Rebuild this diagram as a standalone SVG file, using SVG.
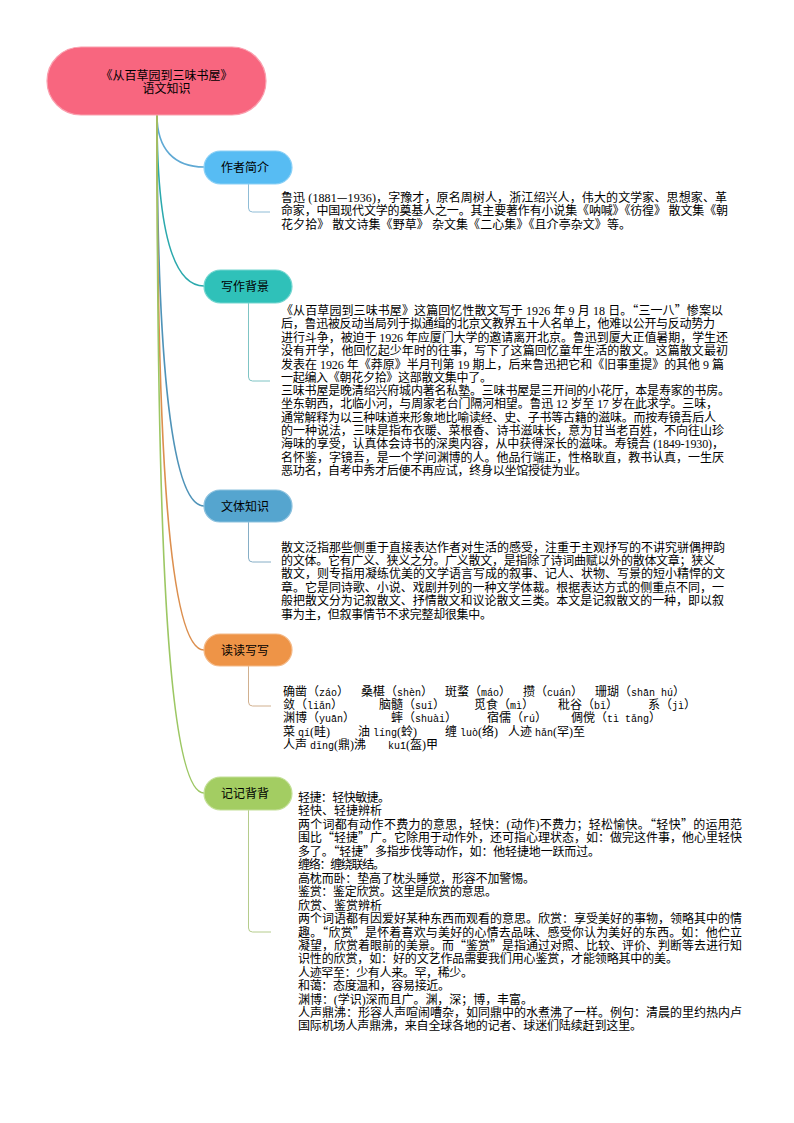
<svg xmlns="http://www.w3.org/2000/svg" width="794" height="1123" viewBox="0 0 794 1123">
<style>
text{font-family:"Liberation Serif","Noto Sans CJK SC",serif;font-size:12px;fill:#000}
.n,.q{font-family:"Noto Sans CJK SC",sans-serif}
.p{font-family:"Liberation Mono",monospace;font-size:10px}
.c{fill:none;stroke-width:1.6}
.s{fill:none;stroke-width:1}
.box{stroke-width:1.2}
</style>
<rect width="794" height="1123" fill="#fff"/>
<g id="connectors">
<path class="c" stroke="#5fa9d4" d="M157 115C157 150 175 167 204 167"/>
<path class="c" stroke="#2ba9ad" d="M157 115C157 220 170 286 204 286"/>
<path class="c" stroke="#4f93b8" d="M157 115C157 330 168 506 204 506"/>
<path class="c" stroke="#dc8f4e" d="M157 115C157 400 165 650 204 650"/>
<path class="c" stroke="#9cc763" d="M157 115C157 500 165 793 204 793"/>
<path class="s" stroke="#8fbcd6" d="M248.500 184V208Q248.500 212 252.500 212H270"/>
<path class="s" stroke="#7fc4c4" d="M248.500 303V377Q248.500 381 252.500 381H270"/>
<path class="s" stroke="#86aec6" d="M248.500 522V558Q248.500 562 252.500 562H271"/>
<path class="s" stroke="#d1b08f" d="M248.500 666V702Q248.500 706 252.500 706H271"/>
<path class="s" stroke="#b5cc8c" d="M248.500 810V928Q248.500 932 252.500 932H271"/>
</g>
<g id="root">
<rect class="box" x="47" y="47" width="219" height="68" rx="34" fill="#f8667f" stroke="#fa9fae"/>
<text text-anchor="middle" class="n"><tspan x="166.500" y="79.500">《从百草园到三味书屋》</tspan><tspan x="166.500" y="92.500">语文知识</tspan></text>
</g>
<g id="node-author">
<rect class="box" x="204" y="151" width="88" height="33" rx="16.500" fill="#57bcf3" stroke="#8bd0f6"/>
<text x="221" y="172" class="n">作者简介</text>
<text y="201.500" x="281" textLength="446">鲁迅 (1881<tspan class="q">—</tspan>1936)，字豫才，原名周树人，浙江绍兴人，伟大的文学家、思想家、革</text>
<text y="215" x="281" textLength="447">命家，中国现代文学的奠基人之一。其主要著作有小说集《呐喊》《彷徨》 散文集《朝</text>
<text y="228.500" x="281" textLength="350">花夕拾》 散文诗集《野草》 杂文集《二心集》《且介亭杂文》等。</text>
</g>
<g id="node-background">
<rect class="box" x="204" y="270" width="88" height="33" rx="16.500" fill="#2fc1b9" stroke="#74d6d0"/>
<text x="221" y="291" class="n">写作背景</text>
<text y="314.500" x="281" textLength="442">《从百草园到三味书屋》这篇回忆性散文写于 1926 年 9 月 18 日。<tspan class="q">“</tspan>三一八<tspan class="q">”</tspan>惨案以</text>
<text y="328" x="281" textLength="434">后，鲁迅被反动当局列于拟通缉的北京文教界五十人名单上，他难以公开与反动势力</text>
<text y="341.500" x="281" textLength="447">进行斗争，被迫于 1926 年应厦门大学的邀请离开北京。鲁迅到厦大正值暑期，学生还</text>
<text y="355" x="281" textLength="447">没有开学，他回忆起少年时的往事，写下了这篇回忆童年生活的散文。这篇散文最初</text>
<text y="368.500" x="281" textLength="443">发表在 1926 年《莽原》半月刊第 19 期上，后来鲁迅把它和《旧事重提》的其他 9 篇</text>
<text y="382" x="281" textLength="211">一起编入《朝花夕拾》这部散文集中了。</text>
<text y="394.500" x="281" textLength="449">三味书屋是晚清绍兴府城内著名私塾。三味书屋是三开间的小花厅，本是寿家的书房。</text>
<text y="408" x="281" textLength="437">坐东朝西，北临小河，与周家老台门隔河相望。鲁迅 12 岁至 17 岁在此求学。三味，</text>
<text y="421.500" x="281" textLength="435">通常解释为以三种味道来形象地比喻读经、史、子书等古籍的滋味。而按寿镜吾后人</text>
<text y="435" x="281" textLength="443">的一种说法，三味是指布衣暖、菜根香、诗书滋味长，意为甘当老百姓，不向往山珍</text>
<text y="448" x="281" textLength="443">海味的享受，认真体会诗书的深奥内容，从中获得深长的滋味。寿镜吾 (1849-1930)，</text>
<text y="461.500" x="281" textLength="443">名怀鉴，字镜吾，是一个学问渊博的人。他品行端正，性格耿直，教书认真，一生厌</text>
<text y="474.500" x="281" textLength="306">恶功名，自考中秀才后便不再应试，终身以坐馆授徒为业。</text>
</g>
<g id="node-genre">
<rect class="box" x="204" y="490" width="88" height="32" rx="16" fill="#55a5cf" stroke="#8cc1de"/>
<text x="221" y="510.500" class="n">文体知识</text>
<text y="551.500" x="281" textLength="444">散文泛指那些侧重于直接表达作者对生活的感受，注重于主观抒写的不讲究骈偶押韵</text>
<text y="564.500" x="281" textLength="434">的文体。它有广义、狭义之分。广义散文，是指除了诗词曲赋以外的散体文章；狭义</text>
<text y="578" x="281" textLength="444">散文，则专指用凝练优美的文学语言写成的叙事、记人、状物、写景的短小精悍的文</text>
<text y="591.500" x="281" textLength="443">章。它是同诗歌、小说、戏剧并列的一种文学体裁。根据表达方式的侧重点不同，一</text>
<text y="605" x="281" textLength="443">般把散文分为记叙散文、抒情散文和议论散文三类。本文是记叙散文的一种，即以叙</text>
<text y="618.500" x="281" textLength="211">事为主，但叙事情节不求完整却很集中。</text>
</g>
<g id="node-reading">
<rect class="box" x="204" y="634" width="88" height="32" rx="16" fill="#ee9447" stroke="#f4b987"/>
<text x="221" y="654.500" class="n">读读写写</text>
<text y="696" x="283">确凿（<tspan class="p">záo</tspan>）</text><text y="696" x="361">桑椹（<tspan class="p">shèn</tspan>）</text><text y="696" x="445">斑蝥（<tspan class="p">máo</tspan>）</text><text y="696" x="523">攒（<tspan class="p">cuán</tspan>）</text><text y="696" x="595">珊瑚（<tspan class="p">shān hú</tspan>）</text>
<text y="708.500" x="283">敛（<tspan class="p">liǎn</tspan>）</text><text y="708.500" x="379">脑髓（<tspan class="p">suǐ</tspan>）</text><text y="708.500" x="474">觅食（<tspan class="p">mì</tspan>）</text><text y="708.500" x="558">秕谷（<tspan class="p">bǐ</tspan>）</text><text y="708.500" x="648">系（<tspan class="p">jì</tspan>）</text>
<text y="721.500" x="283">渊博（<tspan class="p">yuān</tspan>）</text><text y="721.500" x="391">蟀（<tspan class="p">shuài</tspan>）</text><text y="721.500" x="487">宿儒（<tspan class="p">rú</tspan>）</text><text y="721.500" x="571">倜傥（<tspan class="p">tì tǎng</tspan>）</text>
<text y="735.500" x="283">菜 <tspan class="p">qí</tspan>(畦)</text><text y="735.500" x="358">油 <tspan class="p">líng</tspan>(蛉)</text><text y="735.500" x="445">缠 <tspan class="p">luò</tspan>(络)</text><text y="735.500" x="508">人迹 <tspan class="p">hǎn</tspan>(罕)至</text>
<text y="749" x="283">人声 <tspan class="p">dǐng</tspan>(鼎)沸</text><text y="749" x="388"><tspan class="p">kuī</tspan>(盔)甲</text>
</g>
<g id="node-memorize">
<rect class="box" x="204" y="777" width="88" height="33" rx="16.500" fill="#a3cd62" stroke="#c3df97"/>
<text x="221" y="798" class="n">记记背背</text>
<text y="801.500" x="298" textLength="92">轻捷：轻快敏捷。</text>
<text y="815" x="298" textLength="84">轻快、轻捷辨析</text>
<text y="828.500" x="298" textLength="444">两个词都有动作不费力的意思，轻快：(动作)不费力；轻松愉快。<tspan class="q">“</tspan>轻快<tspan class="q">”</tspan>的运用范</text>
<text y="842" x="298" textLength="444">围比<tspan class="q">“</tspan>轻捷<tspan class="q">”</tspan>广。它除用于动作外，还可指心理状态，如：做完这件事，他心里轻快</text>
<text y="855.500" x="298" textLength="302">多了。<tspan class="q">“</tspan>轻捷<tspan class="q">”</tspan>多指步伐等动作，如：他轻捷地一跃而过。</text>
<text y="869" x="298" textLength="87">缠络：缠绕联结。</text>
<text y="882.500" x="298" textLength="237">高枕而卧：垫高了枕头睡觉，形容不加警惕。</text>
<text y="896" x="298" textLength="199">鉴赏：鉴定欣赏。这里是欣赏的意思。</text>
<text y="909.500" x="298" textLength="84">欣赏、鉴赏辨析</text>
<text y="923" x="298" textLength="444">两个词语都有因爱好某种东西而观看的意思。欣赏：享受美好的事物，领略其中的情</text>
<text y="936.500" x="298" textLength="444">趣。<tspan class="q">“</tspan>欣赏<tspan class="q">”</tspan>是怀着喜欢与美好的心情去品味、感受你认为美好的东西。如：他伫立</text>
<text y="950" x="298" textLength="444">凝望，欣赏着眼前的美景。而<tspan class="q">“</tspan>鉴赏<tspan class="q">”</tspan>是指通过对照、比较、评价、判断等去进行知</text>
<text y="963" x="298" textLength="380">识性的欣赏，如：好的文艺作品需要我们用心鉴赏，才能领略其中的美。</text>
<text y="976.500" x="298" textLength="175">人迹罕至：少有人来。罕，稀少。</text>
<text y="990" x="298" textLength="152">和蔼：态度温和，容易接近。</text>
<text y="1003.500" x="298" textLength="235">渊博：(学识)深而且广。渊，深；博，丰富。</text>
<text y="1017" x="298" textLength="444">人声鼎沸：形容人声喧闹嘈杂，如同鼎中的水煮沸了一样。例句：清晨的里约热内卢</text>
<text y="1030" x="298" textLength="344">国际机场人声鼎沸，来自全球各地的记者、球迷们陆续赶到这里。</text>
</g>
</svg>
